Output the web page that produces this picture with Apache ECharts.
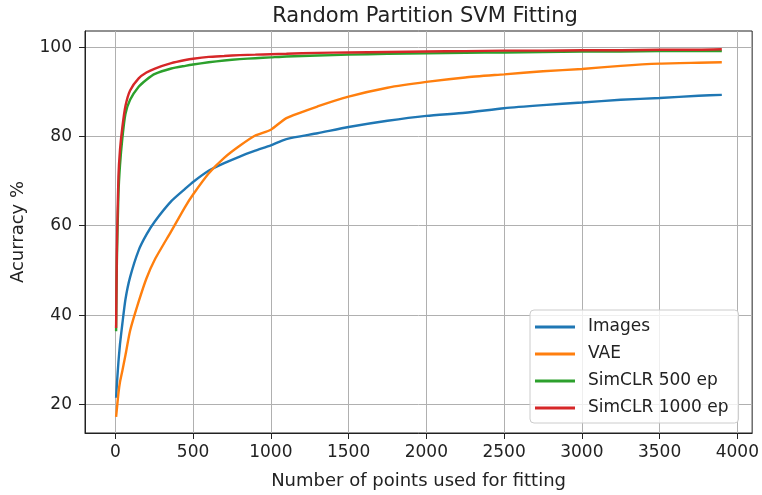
<!DOCTYPE html>
<html>
<head>
<meta charset="utf-8">
<script src="https://cdn.jsdelivr.net/npm/echarts@6/dist/echarts.min.js"></script>
<style>
  html, body { margin: 0; padding: 0; background: #fff; }
  #main { width: 762px; height: 495px; }
</style>
</head>
<body>
<div id="main"></div>
<script>
// points used for fitting
var pointsUsed = [5, 10, 20, 30, 45, 65, 95, 150, 200, 255, 360, 450, 500, 600, 700, 800, 900, 1000,
  1100, 1300, 1500, 1750, 2000, 2250, 2500, 2750, 3000, 3250, 3500, 3750, 3900];

// accuracy per method
var accImages = [21.5, 24.5, 29.5, 33.5, 38, 43.5, 48.5, 54.5, 58.0, 61.0, 65.5, 68.3, 69.8, 72.3, 74.0, 75.5, 76.8, 78.0,
  79.4, 80.7, 82.1, 83.5, 84.6, 85.3, 86.3, 87.0, 87.6, 88.2, 88.6, 89.1, 89.3];
var accVAE = [17.2, 19, 22.5, 25, 27.5, 31, 36.5, 43, 48.2, 52.5, 58.8, 64.3, 67, 71.7, 75.2, 77.9, 80.2, 81.5,
  84.1, 86.7, 88.9, 90.9, 92.2, 93.2, 93.9, 94.6, 95.1, 95.8, 96.3, 96.5, 96.6];
var accSim500 = [36.4, 52, 67, 73.5, 79.5, 85.0, 88.2, 91.1, 92.7, 94.0, 95.2, 95.8, 96.1, 96.6, 97.0, 97.3, 97.5, 97.7,
  97.9, 98.1, 98.3, 98.5, 98.6, 98.7, 98.8, 98.9, 99.0, 99.0, 99.1, 99.1, 99.1];
var accSim1000 = [37.1, 55, 71, 77, 82, 86.8, 90.3, 93.0, 94.3, 95.2, 96.4, 97.1, 97.4, 97.8, 98.0, 98.2, 98.3, 98.4,
  98.5, 98.7, 98.8, 98.9, 99.0, 99.1, 99.2, 99.2, 99.3, 99.3, 99.4, 99.4, 99.5];

var xTicks = [0, 500, 1000, 1500, 2000, 2500, 3000, 3500, 4000];
var yTicks = [20, 40, 60, 80, 100];

var names = ['Images', 'VAE', 'SimCLR 500 ep', 'SimCLR 1000 ep'];
var colors = ['#1f77b4', '#ff7f0e', '#2ca02c', '#d62728'];
var allAcc = [accImages, accVAE, accSim500, accSim1000];

var font = 'DejaVu Sans';

var chart = echarts.init(document.getElementById('main'), null, {renderer: 'canvas'});

//把 x 和 y 拼成点
var makeSeries = function(i){
  return {
    name: names[i],
    type: 'line',
    showSymbol: false,
    symbol: 'none',
    smooth: 0.2,
    lineStyle: {width: 2.4, color: colors[i]},
    itemStyle: {color: colors[i]},
    data: pointsUsed.map(function(x, j){ return [x, allAcc[i][j]]; })
  };
};

var plain = function(v){ return String(v); };

var option = {
  animation: false,
  backgroundColor: '#fff',
  title: {
    text: 'Random Partition SVM Fitting',
    left: 420,
    top: 1,
    textAlign: 'center',
    textStyle: {fontFamily: font, fontSize: 21, fontWeight: 'normal', color: '#222'}
  },
  grid: {
    left: 85, right: 7, top: 31, bottom: 61,
    show: true, borderColor: '#222', borderWidth: 1
  },
  legend: {
    orient: 'vertical',
    left: 530,
    top: 310,
    padding: [8, 10, 6, 5],
    itemGap: 9,
    itemWidth: 40,
    itemHeight: 3,
    icon: 'rect',
    backgroundColor: 'rgba(255,255,255,0.8)',
    borderColor: '#ccc',
    borderWidth: 1,
    borderRadius: 4,
    textStyle: {fontFamily: font, fontSize: 17, lineHeight: 18, color: '#222', padding: [0, 0, 0, 8]},
    data: names
  },
  xAxis: {
    type: 'value',
    min: -195,
    max: 4095,
    name: 'Number of points used for fitting',
    nameLocation: 'middle',
    nameGap: 39,
    nameTextStyle: {fontFamily: font, fontSize: 18, color: '#222'},
    axisLine: {show: true, onZero: false, lineStyle: {color: '#222', width: 1}},
    axisTick: {show: true, inside: false, length: 6, customValues: xTicks, lineStyle: {color: '#222'}},
    axisLabel: {customValues: xTicks, formatter: plain, margin: 11, fontFamily: font, fontSize: 17, color: '#222'},
    splitLine: {show: true, lineStyle: {color: '#b0b0b0', width: 1}}
  },
  yAxis: {
    type: 'value',
    min: 13.6,
    max: 103.6,
    name: 'Acurracy %',
    nameLocation: 'middle',
    nameGap: 58,
    nameRotate: 90,
    nameTextStyle: {fontFamily: font, fontSize: 18, color: '#222'},
    axisLine: {show: true, onZero: false, lineStyle: {color: '#222', width: 1}},
    axisTick: {show: true, inside: false, length: 6, customValues: yTicks, lineStyle: {color: '#222'}},
    axisLabel: {customValues: yTicks, formatter: plain, margin: 13, fontFamily: font, fontSize: 17, color: '#222'},
    splitLine: {show: true, lineStyle: {color: '#b0b0b0', width: 1}}
  },
  series: [makeSeries(0), makeSeries(1), makeSeries(2), makeSeries(3)]
};

chart.setOption(option);
</script>
</body>
</html>
